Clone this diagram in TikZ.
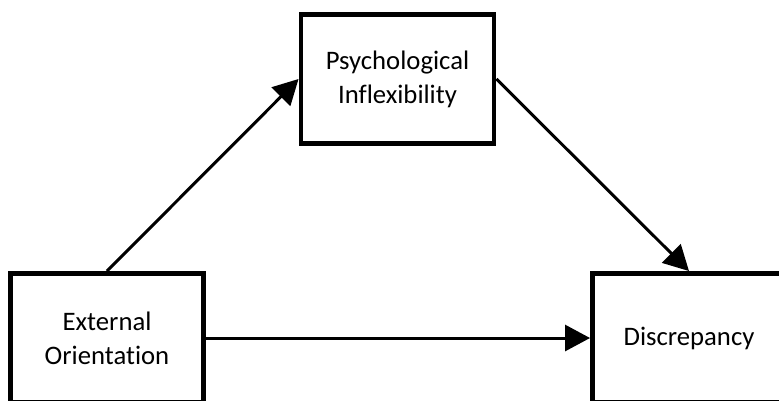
\documentclass[tikz,border=0pt]{standalone}
\usepackage{fontspec}
\setmainfont{Carlito}[Ligatures=NoCommon]
\usetikzlibrary{arrows.meta}

\begin{document}
\begin{tikzpicture}[
    varbox/.style={draw, line width=1.4pt, minimum width=1.93cm, minimum height=1.29cm,
                   align=center, font=\fontsize{7.6}{9.6}\selectfont},
    path/.style={line width=0.85pt, -{Triangle[length=0.25cm, width=0.26cm]}}
]

% Frame of the picture
\clip (0,0) rectangle (7.79,4);

% Variables
\node[varbox] (mediator) at (3.975,3.21) {Psychological\\Inflexibility};
\node[varbox] (predictor) at (1.07,0.62) {External\\Orientation};
\node[varbox] (outcome) at (6.89,0.62) {Discrepancy};

% Paths
\draw[path] (predictor.north) -- (mediator.west);
\draw[path] (mediator.east) -- (outcome.north);
\draw[path] (predictor.east) -- (outcome.west);

\end{tikzpicture}
\end{document}
